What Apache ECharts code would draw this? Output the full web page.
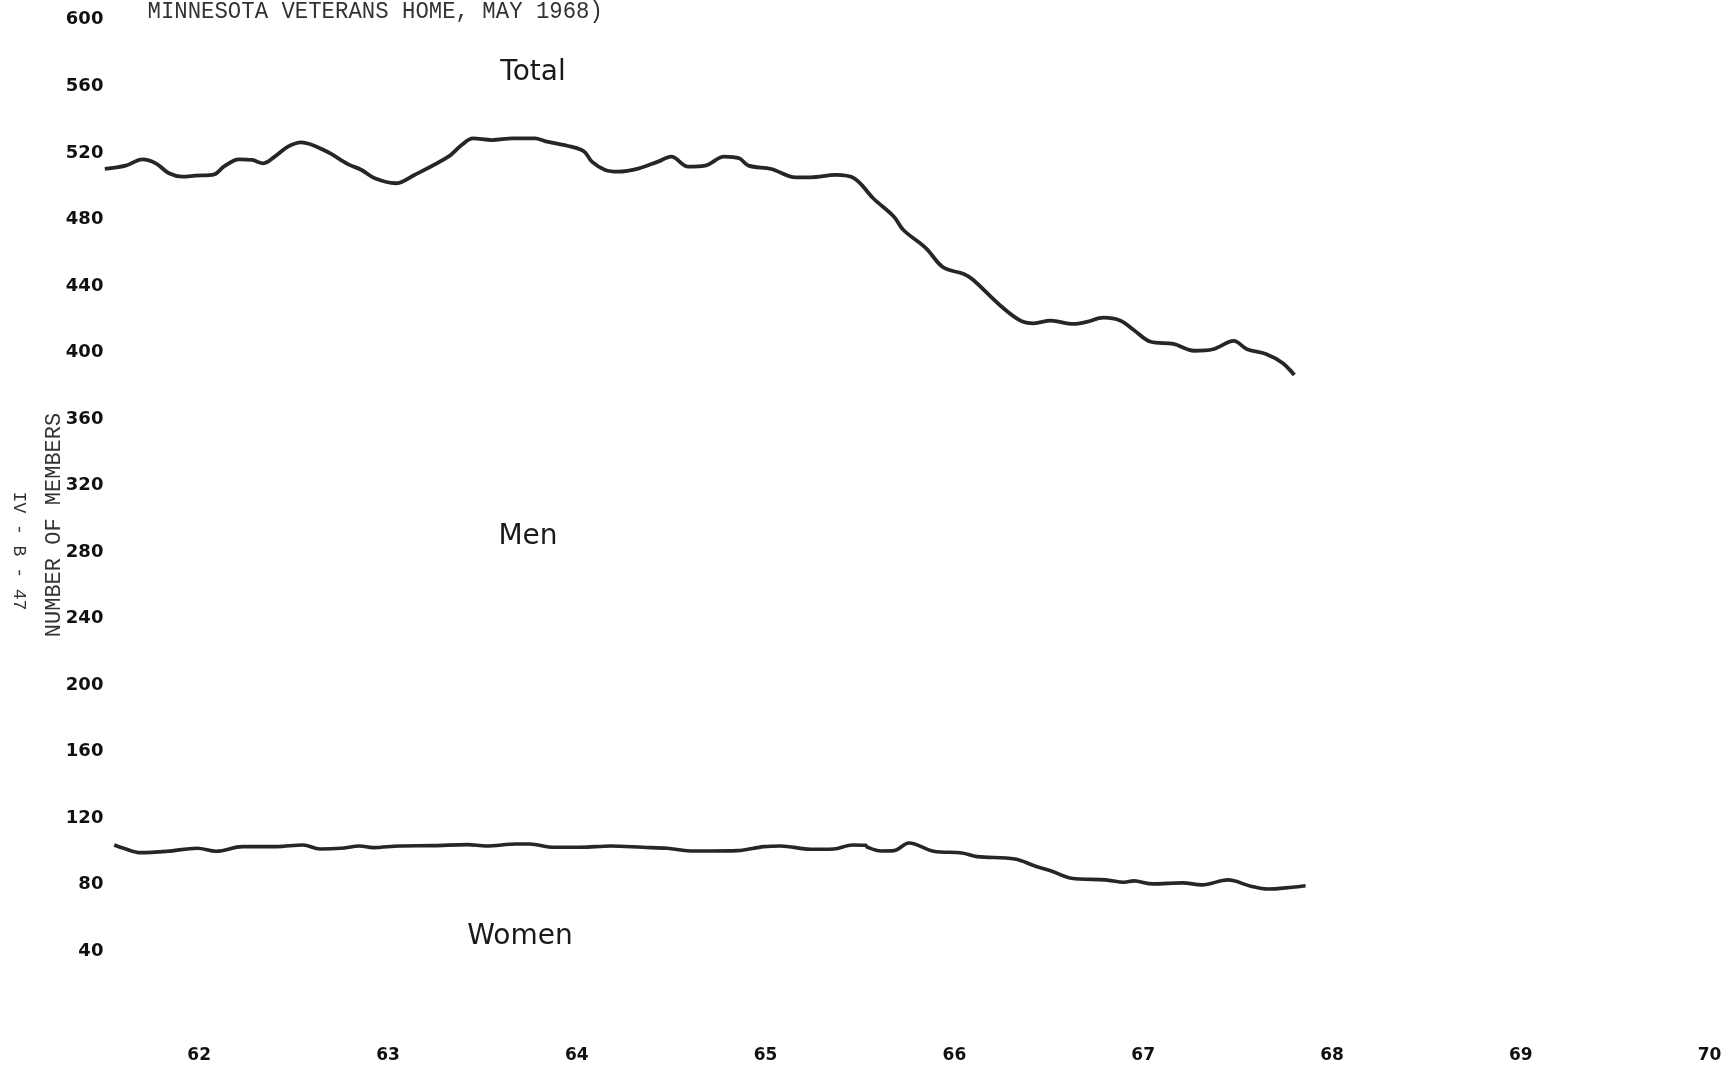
<!DOCTYPE html>
<html>
<head>
<meta charset="utf-8">
<script src="https://cdn.jsdelivr.net/npm/echarts@6/dist/echarts.min.js"></script>
<style>
html,body{margin:0;padding:0;background:#fff;}
#chart{width:1726px;height:1074px;}
</style>
</head>
<body>
<div id="chart"></div>
<script>
// ---- data ----
const xTickLabels = ['62','63','64','65','66','67','68','69','70'];
const yTickValues = [40,80,120,160,200,240,280,320,360,400,440,480,520,560,600];

const totalYear = [61.50,61.61,61.70,61.77,61.84,61.91,61.98,62.08,62.13,62.21,62.28,62.34,62.40,62.47,62.54,62.67,62.79,62.86,62.93,63.04,63.14,63.32,63.39,63.45,63.55,63.66,63.78,63.83,63.97,64.04,64.08,64.15,64.22,64.33,64.43,64.50,64.59,64.68,64.78,64.86,64.91,65.03,65.16,65.24,65.37,65.47,65.57,65.68,65.73,65.85,65.94,66.05,66.10,66.24,66.35,66.42,66.51,66.63,66.70,66.79,66.88,66.95,67.04,67.16,67.27,67.37,67.48,67.55,67.65,67.74,67.80];
const totalMembers = [510.3,512.3,516.1,513.7,507.7,505.7,506.3,507.1,511.7,516.1,515.7,513.7,517.7,523.7,526.3,521.1,513.1,509.7,504.7,501.7,506.7,517.7,524.7,528.7,527.7,528.7,528.7,527.1,523.7,520.7,514.7,509.7,508.7,510.7,514.7,517.7,511.7,512.3,517.7,516.7,512.3,510.3,505.3,505.3,506.7,504.7,492.7,481.6,473.6,462.6,451.2,447.1,443.5,428.5,419.1,417.5,419.1,417.1,418.3,420.9,419.1,413.5,406.4,405.1,401.0,401.9,406.9,401.9,399.0,393.5,386.4];

const womenYear = [61.55,61.60,61.69,61.83,61.99,62.09,62.23,62.41,62.55,62.64,62.75,62.85,62.92,63.06,63.24,63.42,63.52,63.68,63.75,63.88,64.02,64.18,64.35,64.48,64.60,64.71,64.85,64.99,65.08,65.24,65.36,65.46,65.53,65.54,65.61,65.68,65.76,65.89,66.04,66.12,66.32,66.43,66.51,66.62,66.80,66.90,66.95,67.05,67.21,67.31,67.45,67.57,67.66,67.79,67.86];
const womenMembers = [103.8,101.8,99.2,100.0,101.8,100.0,102.8,102.8,103.8,101.4,101.8,103.2,102.2,103.2,103.4,104.0,103.2,104.4,104.4,102.4,102.4,103.2,102.4,101.8,100.2,100.2,100.4,102.8,103.2,101.2,101.4,103.8,103.6,102.4,100.2,100.4,105.0,100.0,99.0,96.8,95.4,91.0,88.3,83.8,82.8,81.4,82.2,80.4,81.0,79.8,82.8,79.0,77.3,78.4,79.3];

const titleText = 'MINNESOTA VETERANS HOME, MAY 1968)';
const yAxisTitle = 'NUMBER OF MEMBERS';
const pageTag = 'IV - B - 47';
const seriesNotes = ['Total', 'Men', 'Women'];

// ---- build chart ----
const pair = (xs, ys) => xs.map((x, i) => [x, ys[i]]);
const chart = echarts.init(document.getElementById('chart'), null, {renderer: 'canvas'});

const lineColor = '#262626';
const typeFont = '"Liberation Mono", "DejaVu Sans Mono", monospace';
const labelFont = '"DejaVu Sans", "Noto Sans", sans-serif';

chart.setOption({
  animation: false,
  backgroundColor: '#ffffff',
  grid: {left: 10.4, top: 19.8, width: 1699.2, height: 997.8, containLabel: false},
  xAxis: {
    type: 'value', min: 61, max: 70, interval: 1,
    axisLine: {show: false}, axisTick: {show: false}, splitLine: {show: false},
    axisLabel: {
      margin: 29, color: '#111', fontFamily: labelFont, fontWeight: 'bold', fontSize: 17,
      formatter: v => { const i = Math.round(v) - 62; return i >= 0 && i < xTickLabels.length ? xTickLabels[i] : ''; }
    }
  },
  yAxis: {
    type: 'value', min: 0, max: 600, interval: 40,
    axisLine: {show: false}, axisTick: {show: false}, splitLine: {show: false},
    axisLabel: {
      inside: true, align: 'right', margin: 93, padding: [4, 0, 0, 0],
      color: '#111', fontFamily: labelFont, fontWeight: 'bold', fontSize: 18,
      formatter: v => yTickValues.indexOf(v) >= 0 ? String(v) : ''
    }
  },
  series: [
    {
      name: 'Total', type: 'line', data: pair(totalYear, totalMembers),
      showSymbol: false, smooth: 0.35,
      lineStyle: {color: lineColor, width: 3.8}
    },
    {
      name: 'Women', type: 'line', data: pair(womenYear, womenMembers),
      showSymbol: false, smooth: 0.35,
      lineStyle: {color: lineColor, width: 3.6}
    }
  ],
  graphic: [
    {type: 'text', x: 147.5, y: 12, scaleX: 0.93,
     style: {text: titleText, x: 0, y: 0, font: '24px ' + typeFont, fill: '#333',
             align: 'left', textAlign: 'left', verticalAlign: 'middle', textVerticalAlign: 'middle'}},
    {type: 'text', x: 54, y: 525, rotation: Math.PI / 2,
     style: {text: yAxisTitle, x: 0, y: 0, font: '22px ' + typeFont, fill: '#333',
             align: 'center', textAlign: 'center', verticalAlign: 'middle', textVerticalAlign: 'middle'}},
    {type: 'text', x: 19, y: 551, rotation: -Math.PI / 2,
     style: {text: pageTag, x: 0, y: 0, font: '18px ' + typeFont, fill: '#333',
             align: 'center', textAlign: 'center', verticalAlign: 'middle', textVerticalAlign: 'middle'}},
    {type: 'text', x: 533, y: 73,
     style: {text: seriesNotes[0], x: 0, y: 0, font: '28px ' + labelFont, fill: '#1a1a1a',
             align: 'center', textAlign: 'center', verticalAlign: 'middle', textVerticalAlign: 'middle'}},
    {type: 'text', x: 528, y: 537,
     style: {text: seriesNotes[1], x: 0, y: 0, font: '500 28px ' + labelFont, fill: '#1a1a1a',
             align: 'center', textAlign: 'center', verticalAlign: 'middle', textVerticalAlign: 'middle'}},
    {type: 'text', x: 520, y: 937,
     style: {text: seriesNotes[2], x: 0, y: 0, font: '500 28px ' + labelFont, fill: '#1a1a1a',
             align: 'center', textAlign: 'center', verticalAlign: 'middle', textVerticalAlign: 'middle'}}
  ]
});
</script>
</body>
</html>
